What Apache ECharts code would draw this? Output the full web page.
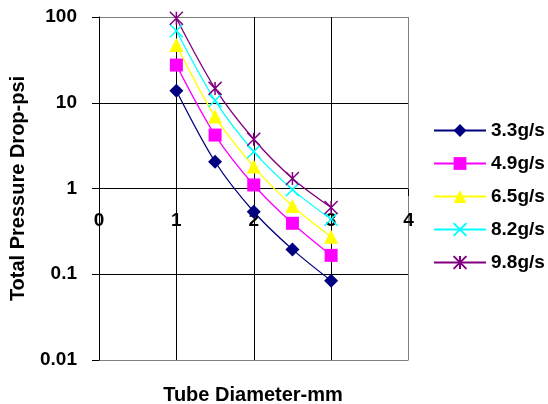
<!DOCTYPE html>
<html>
<head>
<meta charset="utf-8">
<script src="https://cdn.jsdelivr.net/npm/echarts@6/dist/echarts.min.js"></script>
<style>html,body{margin:0;padding:0;background:#fff}#c{width:548px;height:404px}</style>
</head>
<body>
<div id="c"></div>
<script>
var diameters = [1, 1.5, 2, 2.5, 3];
var names = ['3.3g/s', '4.9g/s', '6.5g/s', '8.2g/s', '9.8g/s'];
var s33 = [13.8, 2.05, 0.536, 0.195, 0.084];
var s49 = [27.5, 4.2, 1.10, 0.393, 0.166];
var s65 = [47, 6.9, 1.8, 0.625, 0.274];
var s82 = [69, 10.6, 2.69, 0.97, 0.437];
var s98 = [96.6, 14.7, 3.75, 1.31, 0.60];
var yTicks = ['0.01', '0.1', '1', '10', '100'];
var xTicks = ['0', '1', '2', '3', '4'];

var FONT = 'Arial, "Liberation Sans", sans-serif';
function pairs(arr){ return diameters.map(function(d,i){ return [d, arr[i]]; }); }

var styles = [
  {color:'#000080', symbol:'diamond', size:14, stroke:false},
  {color:'#FF00FF', symbol:'rect', size:13, stroke:false},
  {color:'#FFFF00', symbol:'triangle', size:14, stroke:false},
  {color:'#00FFFF', symbol:'path://M0,0L10,10M10,0L0,10', size:13, stroke:true},
  {color:'#800080', symbol:'path://M0,0L10,10M10,0L0,10M5,0L5,10', size:13, stroke:true}
];
var data = [s33, s49, s65, s82, s98];

var series = data.map(function(arr, i){
  var st = styles[i];
  return {
    name: names[i], type:'line', data: pairs(arr), smooth:0.3,
    symbol: st.symbol, symbolSize: st.size, showAllSymbol:true,
    lineStyle:{color:st.color, width:1.3},
    itemStyle: st.stroke ? {color:'none', borderColor:st.color, borderWidth:1.5} : {color:st.color, borderWidth:0},
    emphasis:{disabled:true}, animation:false
  };
});

var chart = echarts.init(document.getElementById('c'));
chart.setOption({
  animation:false,
  grid:{left:99, right:139.5, top:17, bottom:44, show:false},
  legend:{
    orient:'vertical', left:428, top:116, itemWidth:52, itemHeight:16, itemGap:14,
    data:names,
    textStyle:{fontFamily:FONT, fontWeight:'bold', fontSize:19, color:'#000'}
  },
  xAxis:{
    type:'value', min:0, max:4, interval:1, position:'bottom', offset:-171,
    axisLine:{show:false},
    axisTick:{show:true, length:7, lineStyle:{color:'#000'}},
    axisLabel:{margin:22, fontFamily:FONT, fontWeight:'bold', fontSize:19, color:'#000',
      formatter:function(v){ return xTicks[Math.round(v)]; }},
    splitLine:{show:true, lineStyle:{color:['#000','#000','#000','#000','#808080'], width:1}}
  },
  yAxis:{
    type:'log', logBase:10, min:0.01, max:100,
    name:'Total Pressure Drop-psi', nameLocation:'middle', nameGap:71, nameRotate:90,
    nameTextStyle:{fontFamily:FONT, fontWeight:'bold', fontSize:20, color:'#000'},
    axisLine:{show:true, lineStyle:{color:'#000', width:1}},
    axisTick:{show:true, length:7, lineStyle:{color:'#000'}},
    axisLabel:{margin:22, fontFamily:FONT, fontWeight:'bold', fontSize:19, color:'#000',
      formatter:function(v){ var k = Math.round(Math.log10(v)) + 2; return yTicks[k]; }},
    splitLine:{show:true, lineStyle:{color:['#808080','#000','#000','#000','#808080'], width:1}}
  },
  graphic:[
    {type:'line', shape:{x1:99, y1:17.5, x2:408.5, y2:17.5}, style:{stroke:'#808080', lineWidth:1}, silent:true},
    {type:'line', shape:{x1:408.5, y1:17, x2:408.5, y2:360}, style:{stroke:'#808080', lineWidth:1}, silent:true},
    {type:'text', x:253, y:395, style:{text:'Tube Diameter-mm', x:0, y:0, textAlign:'center', textVerticalAlign:'middle', font:'bold 20px ' + FONT, fill:'#000'}}
  ],
  series: series
});
</script>
</body>
</html>
